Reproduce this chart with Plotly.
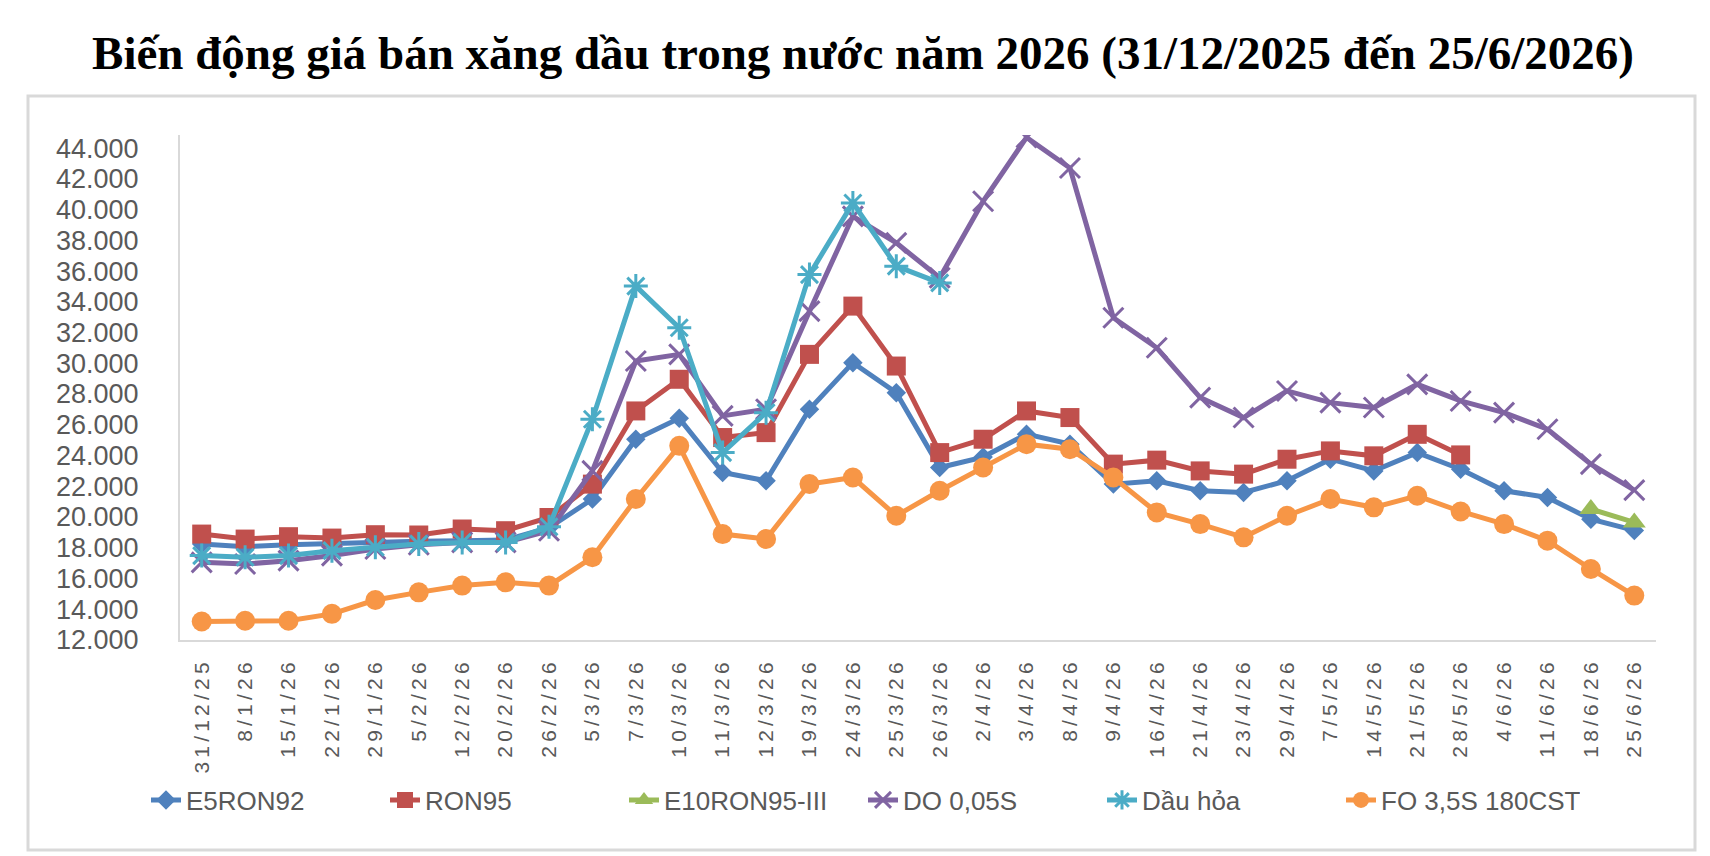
import plotly.graph_objects as go

# ngay dieu chinh gia
dates = ["31/12/25", "8/1/26", "15/1/26", "22/1/26", "29/1/26", "5/2/26", "12/2/26",
         "20/2/26", "26/2/26", "5/3/26", "7/3/26", "10/3/26", "11/3/26", "12/3/26",
         "19/3/26", "24/3/26", "25/3/26", "26/3/26", "2/4/26", "3/4/26", "8/4/26",
         "9/4/26", "16/4/26", "21/4/26", "23/4/26", "29/4/26", "7/5/26", "14/5/26",
         "21/5/26", "28/5/26", "4/6/26", "11/6/26", "18/6/26", "25/6/26"]

e5ron92 = [18240, 18070, 18200, 18290, 18400, 18420, 18460, 18500, 19300, 21170, 25060, 26420,
           22900, 22360, 27010, 30040, 28090, 23220, 23900, 25390, 24740, 22140, 22360, 21710,
           21600, 22360, 23760, 23000, 24190, 23110, 21710, 21270, 19860, 19130]

ron95 = [18890, 18565, 18720, 18630, 18850, 18830, 19220, 19110, 19970, 22140, 26900, 28960,
         25170, 25490, 30580, 33720, 29820, 24190, 25060, 26900, 26470, 23440, 23700, 23000,
         22790, 23760, 24300, 23980, 25380, 24040, None, None, None, None]

e10ron95 = [None] * 32 + [20520, 19650]

do005s = [17050, 16940, 17160, 17490, 17920, 18200, 18350, 18350, 19110, 23000, 30150, 30580,
          26580, 27010, 33390, 39560, 37830, 35560, 40540, 44690, 42700, 32960, 31010, 27770,
          26470, 28200, 27440, 27120, 28630, 27550, 26790, 25710, 23440, 21750]

dau_hoa = [17490, 17380, 17490, 17810, 18030, 18240, 18350, 18350, 19370, 26360, 35020, 32310,
           24190, 26790, 35770, 40430, 36320, 35230] + [None] * 16

fo = [13200, 13250, 13250, 13700, 14600, 15100, 15540, 15750, 15540, 17380, 21170, 24630,
      18890, 18570, 22140, 22570, 20080, 21710, 23220, 24740, 24410, 22570, 20300, 19540,
      18680, 20080, 21170, 20630, 21380, 20360, 19540, 18460, 16620, 14890]

series = [
    ("E5RON92", e5ron92, "#4F81BD", "diamond", 15, 0),
    ("RON95", ron95, "#C0504D", "square", 19, 0),
    ("E10RON95-III", e10ron95, "#9BBB59", "triangle-up", 20, 0),
    ("DO 0,05S", do005s, "#8064A2", "x-thin-open", 20, 3),
    ("Dầu hỏa", dau_hoa, "#4BACC6", "asterisk-open", 20, 3),
    ("FO 3,5S 180CST", fo, "#F79646", "circle", 20, 0),
]

fig = go.Figure()
for name, vals, color, sym, size, mlw in series:
    fig.add_trace(go.Scatter(
        x=dates, y=vals, name=name, mode="lines+markers",
        line=dict(color=color, width=5),
        marker=dict(symbol=sym, size=size, color=color,
                    line=dict(color=color, width=mlw)),
        connectgaps=False,
    ))

grey = "#595959"
fig.update_layout(
    width=1710, height=856,
    margin=dict(l=172, r=62, t=127, b=224, autoexpand=False),
    paper_bgcolor="white", plot_bgcolor="white",
    separators=",.",
    font=dict(family="Liberation Sans, Arial, sans-serif", color=grey),
    title=dict(
        text="Biến động giá bán xăng dầu trong nước năm 2026 (31/12/2025 đến 25/6/2026)",
        x=0.5, xref="container", xanchor="center",
        y=1 - 45 / 856, yref="container", yanchor="middle",
        font=dict(family="Liberation Serif, Times New Roman, serif", size=47, color="black",
                  weight="bold"),
    ),
    legend=dict(
        orientation="h", x=0.5, xref="container", xanchor="center",
        y=1 - 792 / 856, yref="container", yanchor="middle",
        font=dict(size=26, color=grey), traceorder="normal",
        entrywidth=194, entrywidthmode="pixels", bgcolor="rgba(0,0,0,0)",
    ),
    showlegend=True,
)

fig.update_xaxes(
    type="category", range=[-0.5, len(dates) - 0.5],
    tickvals=dates, ticktext=["\u2009".join(d) for d in dates],
    tickangle=-90, tickfont=dict(size=21, color=grey),
    ticklabelstandoff=12,
    showline=True, linecolor="#D9D9D9", linewidth=2,
    showgrid=False, zeroline=False, ticks="",
)
fig.update_yaxes(
    range=[12000, 44850], tick0=12000, dtick=2000, tickformat=",d",
    tickfont=dict(size=27, color=grey), ticklabelstandoff=34,
    showline=True, linecolor="#D9D9D9", linewidth=2,
    showgrid=False, zeroline=False, ticks="",
)

# khung vien ngoai
fig.add_shape(type="rect", xref="paper", yref="paper",
              x0=(20 - 172) / 1476, x1=(1687 - 172) / 1476,
              y0=(632 - 842) / 505, y1=(632 - 88) / 505,
              line=dict(color="#D9D9D9", width=3), layer="below")

fig.write_html("out.html")
